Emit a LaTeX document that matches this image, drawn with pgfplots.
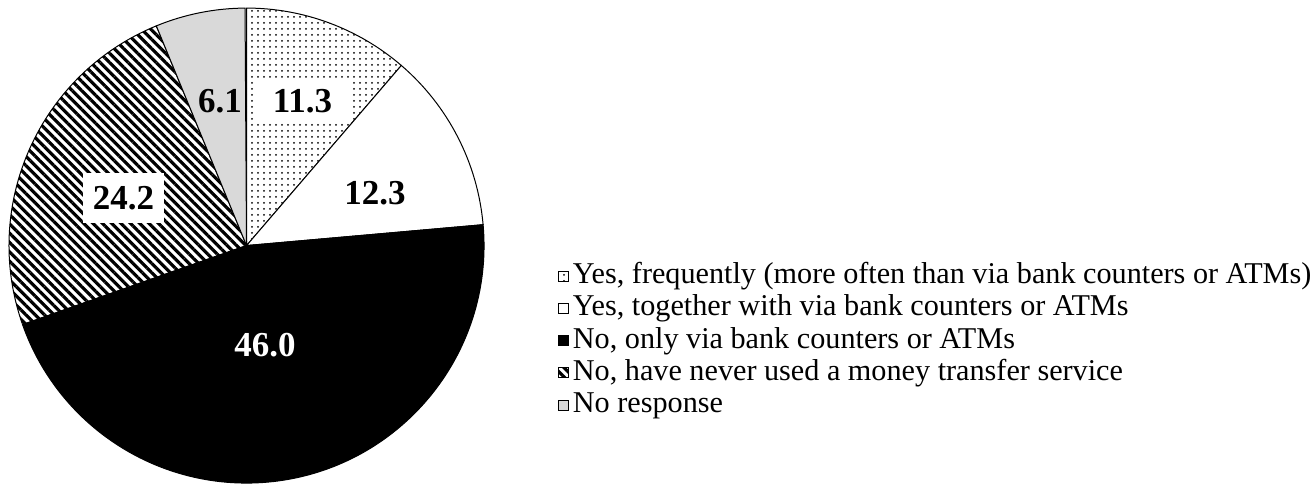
\documentclass[border=0pt]{standalone}
\usepackage{fontspec}
\setmainfont{Liberation Serif}
\usepackage{pgfplots}
\pgfplotsset{compat=1.18}
\usepackage{pgfplotstable}
\usetikzlibrary{patterns.meta}

\definecolor{nogray}{RGB}{217,217,217}

\tikzset{
  pdots/.style={pattern={Dots[distance=3pt, radius=0.5pt]}, pattern color=black},
  phatch/.style={pattern={Lines[angle=-45, distance=3.3pt, line width=1.6pt]}, pattern color=black},
  pwhite/.style={fill=white},
  pblack/.style={fill=black},
  pgray/.style={fill=nogray},
}

% shares (%), clockwise from 12 o'clock
\pgfplotstableread{
value
11.3
12.3
46.0
24.2
6.1
}\piedata

\begin{document}
\begin{tikzpicture}
\pgfplotstablegetelem{0}{value}\of\piedata \let\vA\pgfplotsretval
\pgfplotstablegetelem{1}{value}\of\piedata \let\vB\pgfplotsretval
\pgfplotstablegetelem{2}{value}\of\piedata \let\vC\pgfplotsretval
\pgfplotstablegetelem{3}{value}\of\piedata \let\vD\pgfplotsretval
\pgfplotstablegetelem{4}{value}\of\piedata \let\vE\pgfplotsretval
\pgfmathsetmacro\aA{90}
\pgfmathsetmacro\aB{\aA-3.6*\vA}
\pgfmathsetmacro\aC{\aB-3.6*\vB}
\pgfmathsetmacro\aD{\aC-3.6*\vC}
\pgfmathsetmacro\aE{\aD-3.6*\vD}
\pgfmathsetmacro\aF{\aE-3.6*\vE}
\def\R{118.75pt}
\begin{axis}[
  hide axis, scale only axis, clip=false,
  width=237.5pt, height=237.5pt,
  xmin=-1, xmax=1, ymin=-1, ymax=1,
  legend cell align=left,
  legend image code/.code={\path[#1] (0pt,-2.5pt) rectangle (5pt,2.5pt);},
  legend style={at={(axis cs:1.312,-0.068)}, anchor=north west,
    draw=none, fill=none, inner sep=0pt, outer sep=0pt,
    font=\fontsize{15.1}{16}\selectfont,
    row sep=1.6pt, column sep=2pt,
    nodes={inner sep=0pt, text height=11pt, text depth=3.5pt}},
]
\coordinate (bbSW) at (axis cs:-1.038,-1.008);
\coordinate (bbNE) at (axis cs:4.482,1.034);

\path[pdots, draw=black, line width=0.5pt] (axis cs:0,0) -- (axis cs:{cos(\aA)},{sin(\aA)}) arc[start angle=\aA, end angle=\aB, radius=\R] -- cycle;
\path[pwhite, draw=black, line width=0.5pt] (axis cs:0,0) -- (axis cs:{cos(\aB)},{sin(\aB)}) arc[start angle=\aB, end angle=\aC, radius=\R] -- cycle;
\path[pblack, draw=black, line width=0.5pt] (axis cs:0,0) -- (axis cs:{cos(\aC)},{sin(\aC)}) arc[start angle=\aC, end angle=\aD, radius=\R] -- cycle;
\path[phatch, draw=black, line width=0.5pt] (axis cs:0,0) -- (axis cs:{cos(\aD)},{sin(\aD)}) arc[start angle=\aD, end angle=\aE, radius=\R] -- cycle;
\path[pgray, draw=black, line width=0.5pt] (axis cs:0,0) -- (axis cs:{cos(\aE)},{sin(\aE)}) arc[start angle=\aE, end angle=\aF, radius=\R] -- cycle;

% value labels
\node[font=\bfseries\fontsize{17.5}{19}\selectfont, inner sep=0pt] at (axis cs:-0.112,0.608) {6.1};
\node[font=\bfseries\fontsize{17.5}{19}\selectfont, fill=white, inner sep=0pt, minimum width=47.5pt, minimum height=21.5pt] at (axis cs:0.236,0.606) {11.3};
\node[font=\bfseries\fontsize{17.5}{19}\selectfont, inner sep=0pt] at (axis cs:0.541,0.221) {12.3};
\node[font=\bfseries\fontsize{17.5}{19}\selectfont, fill=white, inner sep=0pt, minimum width=40.5pt, minimum height=25pt] at (axis cs:-0.518,0.200) {24.2};
\node[font=\bfseries\fontsize{17.5}{19}\selectfont, text=white, inner sep=0pt] at (axis cs:0.078,-0.419) {46.0};

\addlegendimage{pdots, draw=black, line width=0.4pt}
\addlegendentry{Yes, frequently (more often than via bank counters or ATMs)}
\addlegendimage{pwhite, draw=black, line width=0.4pt}
\addlegendentry{Yes, together with via bank counters or ATMs}
\addlegendimage{pblack, draw=black, line width=0.4pt}
\addlegendentry{No, only via bank counters or ATMs}
\addlegendimage{phatch, draw=black, line width=0.4pt}
\addlegendentry{No, have never used a money transfer service}
\addlegendimage{pgray, draw=black, line width=0.4pt}
\addlegendentry{No response}
\end{axis}
\pgfresetboundingbox
\path[use as bounding box] (bbSW) rectangle (bbNE);
\end{tikzpicture}
\end{document}
